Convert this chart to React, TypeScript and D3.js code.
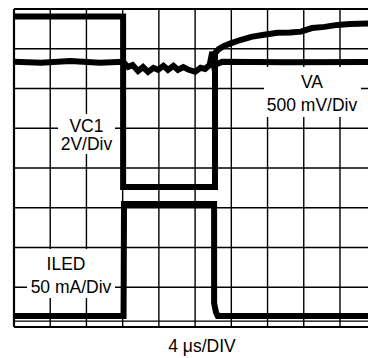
import React from "react";
import * as d3 from "d3";

// Time axis: 4 µs/div, 10 divisions
const TIME_TICKS = [0, 4, 8, 12, 16, 20, 24, 28, 32, 36, 40];
// Vertical: 8 divisions (values in screen divisions from bottom)
const DIV_TICKS = [0, 1, 2, 3, 4, 5, 6, 7, 8];

// VC1 trace (2 V/Div) – time µs, position in divisions
const VC1_T = [0, 12.05, 12.05, 22.2, 22.2, 22.6, 23.2, 24.0, 25.0, 26.2, 27.6, 29.1, 30.5, 31.7, 32.9, 34.3, 35.7, 37.1, 39.5];
const VC1_D = [7.81, 7.81, 3.52, 3.52, 6.89, 6.99, 7.07, 7.14, 7.22, 7.30, 7.35, 7.40, 7.41, 7.43, 7.52, 7.55, 7.60, 7.62, 7.64];

// VA trace (500 mV/Div)
const VA_T = [0, 3, 6.2, 9.5, 12.05, 12.6, 13.1, 13.7, 14.25, 14.8, 15.4, 15.9, 16.5, 17.0, 17.6, 18.1, 18.7, 19.3, 20.0, 20.6, 21.1, 21.6, 21.9, 22.1, 22.4, 23.0, 30, 39.5];
const VA_D = [6.67, 6.65, 6.69, 6.65, 6.67, 6.54, 6.59, 6.44, 6.54, 6.42, 6.52, 6.47, 6.57, 6.47, 6.57, 6.47, 6.54, 6.47, 6.42, 6.52, 6.49, 6.59, 6.92, 6.57, 6.62, 6.67, 6.66, 6.67];

// ILED trace (50 mA/Div)
const ILED_T = [0, 12.1, 12.15, 22.1, 22.1, 22.3, 22.5, 39.5];
const ILED_D = [0.277, 0.277, 3.094, 3.094, 0.604, 0.377, 0.277, 0.277];

const W = 368;
const H = 358;

export default function App() {
  const x = d3.scaleLinear().domain([0, 40]).range([14, 376.2]);
  const y = d3.scaleLinear().domain([0, 8]).range([327, 9]);

  const line = d3
    .line<[number, number]>()
    .x((d) => x(d[0]))
    .y((d) => y(d[1]));

  const zip = (t: number[], v: number[]) => t.map((tt, i) => [tt, v[i]] as [number, number]);

  const font = "'Liberation Sans', Arial, Helvetica, sans-serif";

  return (
    <svg
      width={W}
      height={H}
      style={{ position: "absolute", left: 0, top: 0, background: "#fff" }}
    >
      <rect x={0} y={0} width={W} height={H} fill="#fff" />
      {/* grid */}
      {TIME_TICKS.map((t) => (
        <line
          key={"v" + t}
          x1={x(t)}
          x2={x(t)}
          y1={y(8)}
          y2={y(0)}
          stroke="#000"
          strokeWidth={t === 0 ? 2.2 : 1.4}
        />
      ))}
      {DIV_TICKS.map((d) => (
        <line
          key={"h" + d}
          x1={x(0)}
          x2={W}
          y1={y(d)}
          y2={y(d)}
          stroke="#000"
          strokeWidth={d === 0 || d === 8 ? 2.2 : 1.4}
        />
      ))}
      <line x1={x(0)} x2={W} y1={y(0.15)} y2={y(0.15)} stroke="#000" strokeWidth={1.2} />

      {/* label backgrounds */}
      <rect x={58} y={114} width={57} height={40} fill="#fff" />
      <rect x={264} y={67} width={97} height={50} fill="#fff" />
      <rect x={27} y={249} width={88} height={49} fill="#fff" />

      {/* traces */}
      <path d={line(zip(VA_T, VA_D)) || ""} fill="none" stroke="#000" strokeWidth={6} strokeLinejoin="miter" />
      <path d={line(zip(ILED_T, ILED_D)) || ""} fill="none" stroke="#000" strokeWidth={6} strokeLinejoin="miter" />
      <path d={line(zip(VC1_T, VC1_D)) || ""} fill="none" stroke="#000" strokeWidth={6} strokeLinejoin="miter" />

      {/* labels */}
      <g fontFamily={font} fontSize={17.5} fill="#000" textAnchor="middle">
        <text x={x(8)} y={131.5}>VC1</text>
        <text x={x(8)} y={150}>2V/Div</text>
        <text x={312} y={88}>VA</text>
        <text x={312} y={111}>500 mV/Div</text>
        <text x={66} y={270}>ILED</text>
        <text x={71} y={293}>50 mA/Div</text>
        <text x={202} y={352}>4 μs/DIV</text>
      </g>
    </svg>
  );
}
